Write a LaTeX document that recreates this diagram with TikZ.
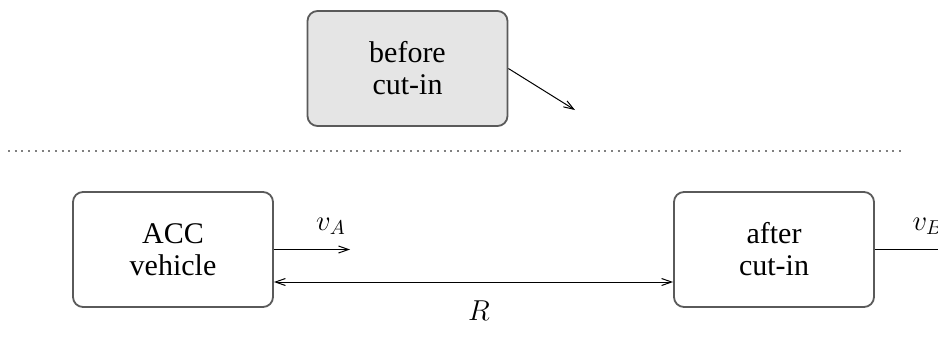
\documentclass[tikz,border=0pt]{standalone}
\usepackage{fontspec}
\setmainfont{Liberation Serif}
\usepackage{xcolor}
\definecolor{ink}{HTML}{000000}
\definecolor{boxLine}{HTML}{5A5A5A}
\definecolor{boxFill}{HTML}{E5E5E5}
\definecolor{sepLine}{HTML}{808080}
\usetikzlibrary{arrows.meta}

\begin{document}
\begin{tikzpicture}[
  x=0.5pt, y=-0.5pt,
  every node/.style={align=center},
  car/.style={rectangle, rounded corners=5pt, draw=boxLine, line width=0.9pt, minimum width=100pt, minimum height=57.5pt, inner sep=0pt, text=ink, font=\fontsize{15}{16}\selectfont},
  oldCar/.style={car, fill=boxFill},
  arrow/.style={-{Straight Barb[length=5pt, width=3.5pt]}, line width=0.5pt, ink},
  dblArrow/.style={{Straight Barb[length=5pt, width=3.5pt]}-{Straight Barb[length=5pt, width=3.5pt]}, line width=0.5pt, ink},
  separator/.style={line width=0.6pt, sepLine, dash pattern=on 1pt off 2.35pt},
  mathLabel/.style={font=\fontsize{14}{16}\selectfont, inner sep=1pt},
]
\useasboundingbox (0,0) rectangle (938,345);

% ------------------- before the cut-in (top) -------------------
\node[oldCar] (before) at (407.5,68.5) {before\\cut-in};
\coordinate (beforeTip) at (575,110);
\draw[arrow] (before.east) -- (beforeTip);

% separator
\coordinate (sepL) at (8,151);
\coordinate (sepR) at (905,151);
\draw[separator] (sepL) -- (sepR);

% ------------------- after the cut-in (bottom) -----------------
\node[car] (acc) at (173,249.5) {ACC\\vehicle};
\node[car] (after) at (774,249.5) {after\\cut-in};

% speeds
\coordinate (vaTip) at (350,249.5);
\draw[arrow] (acc.east) -- (vaTip);
\node[mathLabel] (vA) at (331,226) {$v_A$};
\coordinate (vbTip) at (951,249.5);
\draw[arrow] (after.east) -- (vbTip);
\node[mathLabel] (vB) at (928,226) {$v_B$};

% range
\coordinate (rLevel) at (0,282);
\draw[dblArrow] (acc.east |- rLevel) -- (after.west |- rLevel);
\node[mathLabel] (range) at (479,311) {$R$};

\end{tikzpicture}
\end{document}
